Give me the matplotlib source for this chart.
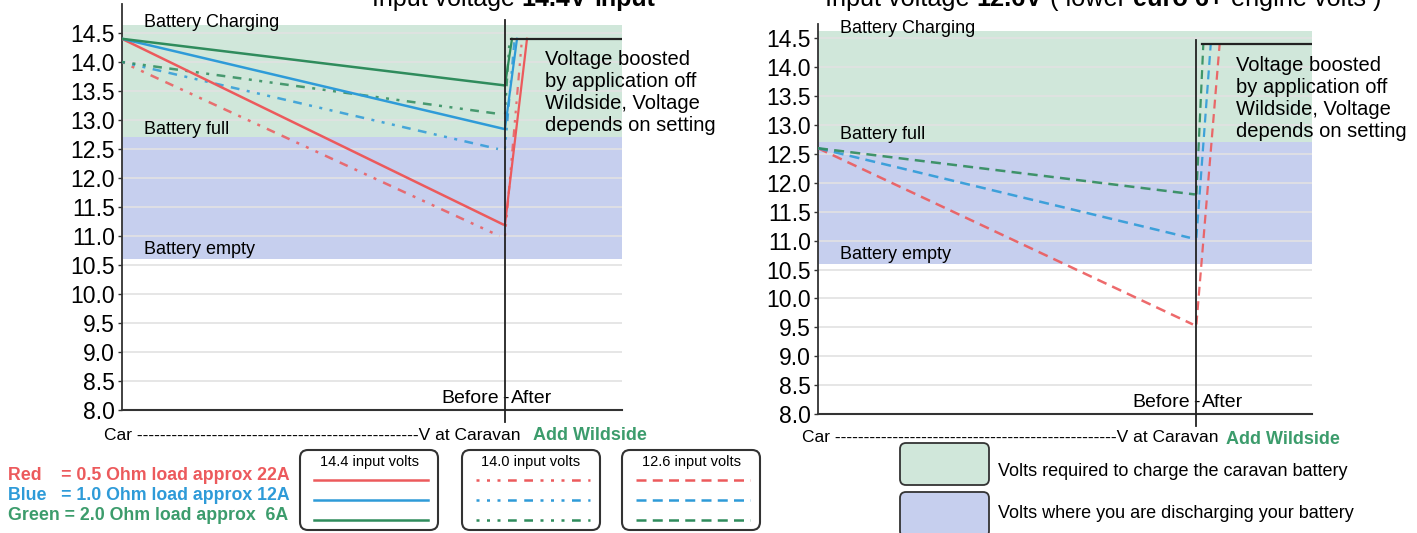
import numpy as np
import matplotlib
matplotlib.use('Agg')
import matplotlib.pyplot as plt
from matplotlib.patches import FancyBboxPatch

plt.rcParams['font.family'] = ['Liberation Sans', 'DejaVu Sans']

# ---- data ----
yticks = [8.0, 8.5, 9.0, 9.5, 10.0, 10.5, 11.0, 11.5, 12.0, 12.5, 13.0, 13.5, 14.0, 14.5]
band_charge = (12.7, 14.63)     # green band
band_discharge = (10.6, 12.7)   # blue band

# left chart: 14.4 V input (solid) and 14.0 V input (dot-dash); order red, blue, green
in144_car = [14.4, 14.4, 14.4]
in144_caravan = [11.2, 12.85, 13.6]
in140_car = [14.0, 14.0, 14.0]
in140_caravan = [11.0, 12.5, 13.1]
# right chart: 12.6 V input (dashed)
in126_car = [12.6, 12.6, 12.6]
in126_caravan = [9.55, 11.05, 11.8]
boosted = 14.4

# x positions (fraction of the axis) for car / caravan / boosted ends
x_car = 0.0
x_caravan_left = [0.762, 0.762, 0.762]
x_caravan_140 = [0.755, 0.752, 0.758]
x_boost_left = [0.81, 0.79, 0.78]
x_boost_140 = [0.80, 0.785, 0.775]
x_caravan_right = [0.759, 0.753, 0.763]
x_boost_right = [0.813, 0.795, 0.78]
x_divider = 0.766

RED = '#ec5a5c'
BLUE = '#2e9bd8'
GREEN = '#2f8c5c'
COLORS = [RED, BLUE, GREEN]
TXTGREEN = '#3c9c6c'
BAND_G = '#d0e7da'
BAND_B = '#c6cfee'

solid = '-'
dotdash = (0, (1.2, 3, 1.2, 3, 1.2, 3, 3.5, 3, 3.5, 3))
dashed = (0, (4, 2.5))

W, H = 1417, 533
fig = plt.figure(figsize=(W / 100, H / 100), dpi=100)


def setup(ax, ytop):
    ax.set_xlim(0, 1)
    ax.set_ylim(8.0, ytop)
    ax.axhspan(band_discharge[0], band_discharge[1], color=BAND_B, zorder=0, lw=0)
    ax.axhspan(band_charge[0], band_charge[1], color=BAND_G, zorder=0, lw=0)
    for v in yticks[1:]:
        ax.axhline(v, color='#e2e2e2', lw=1.2, zorder=1)
    ax.set_yticks(yticks)
    ax.set_yticklabels(['%.1f' % v for v in yticks], fontsize=16.5)
    ax.set_xticks([])
    ax.tick_params(axis='y', length=3, width=1, pad=2, color='#333333')
    for s in ['top', 'right']:
        ax.spines[s].set_visible(False)
    ax.spines['left'].set_color('#333333')
    ax.spines['bottom'].set_color('#333333')
    ax.spines['left'].set_linewidth(1.3)
    ax.spines['bottom'].set_linewidth(1.5)
    ax.patch.set_alpha(0)
    ax.axvline(x_divider, ymin=-0.03, ymax=0.96, color='#222222', lw=1.3, clip_on=False, zorder=5)
    ax.text(0.045, 14.68, 'Battery Charging', fontsize=13, va='center', zorder=6)
    ax.text(0.045, 12.83, 'Battery full', fontsize=13, va='center', zorder=6)
    ax.text(0.045, 10.76, 'Battery empty', fontsize=13, va='center', zorder=6)
    ax.text(x_divider + 0.08, 14.2, 'Voltage boosted\nby application off\nWildside, Voltage\ndepends on setting',
            fontsize=14.5, va='top', linespacing=1.2, zorder=6)
    ax.text(x_divider - 0.012, 8.05, 'Before', fontsize=14, ha='right', va='bottom')
    ax.text(x_divider, 8.05, '-', fontsize=14, ha='center', va='bottom')
    ax.text(x_divider + 0.012, 8.05, 'After', fontsize=14, ha='left', va='bottom')
    ax.plot([x_divider + 0.012, 1.0], [boosted, boosted], color='#222222', lw=1.6, zorder=5)


# ---- left chart ----
axL = fig.add_axes([122 / W, 1 - 410 / H, 500 / W, 406 / H])
setup(axL, 15.0)
for i in range(3):
    axL.plot([x_car, x_caravan_140[i]], [in140_car[i], in140_caravan[i]],
             color=COLORS[i], lw=1.8, ls=dotdash, zorder=3, alpha=0.85)
    axL.plot([x_divider, x_boost_140[i]], [in140_caravan[i], boosted],
             color=COLORS[i], lw=1.6, ls=dotdash, zorder=3, alpha=0.85)
for i in range(3):
    axL.plot([x_car, x_caravan_left[i]], [in144_car[i], in144_caravan[i]],
             color=COLORS[i], lw=1.8, zorder=4)
    axL.plot([x_divider, x_boost_left[i]], [in144_caravan[i], boosted],
             color=COLORS[i], lw=1.6, zorder=4)

# ---- right chart ----
axR = fig.add_axes([818 / W, 1 - 414 / H, 494 / W, 390 / H])
setup(axR, 14.75)
for i in range(3):
    axR.plot([x_car, x_caravan_right[i]], [in126_car[i], in126_caravan[i]],
             color=COLORS[i], lw=1.8, ls=dashed, zorder=3, alpha=0.9)
    axR.plot([x_divider, x_boost_right[i]], [in126_caravan[i], boosted],
             color=COLORS[i], lw=1.6, ls=dashed, zorder=3, alpha=0.9)

# ---- overlay for annotations (pixel coordinates) ----
ov = fig.add_axes([0, 0, 1, 1])
ov.set_xlim(0, W)
ov.set_ylim(H, 0)
ov.axis('off')
ov.patch.set_alpha(0)
renderer = fig.canvas.get_renderer()


def run_text(x, y, parts, size, align='left'):
    # lay out bold / normal runs one after the other
    space = 0.28 * size * 100 / 72
    items = []
    for s, bold in parts:
        t = ov.text(x, y, s, fontsize=size, fontweight='bold' if bold else 'normal', va='baseline')
        items.append(t)
    widths = [t.get_window_extent(renderer=renderer).width for t in items]
    total = sum(widths) + space * (len(items) - 1)
    cx = x - total if align == 'right' else x
    for t, w in zip(items, widths):
        t.set_x(cx)
        cx += w + space


# titles cut off at the top of the scan
run_text(655, 6, [('Input voltage', False), ('14.4V', True), ('input', True)], 18, align='right')
run_text(825, 6, [('Input voltage', False), ('12.6V', True), ('( lower', False), ('euro 6+', True),
                  ('engine volts )', False)], 18.2)

ov.text(104, 435, 'Car ' + '-' * 49 + 'V at Caravan', fontsize=12.5, va='center')
ov.text(533, 435, 'Add Wildside', fontsize=13, fontweight='bold', color=TXTGREEN, va='center')
ov.text(802, 438, 'Car ' + '-' * 49 + 'V at Caravan', fontsize=12.5, va='center')
ov.text(1226, 439, 'Add Wildside', fontsize=13, fontweight='bold', color=TXTGREEN, va='center')

# load legend text
load_text = ['Red    = 0.5 Ohm load approx 22A',
             'Blue   = 1.0 Ohm load approx 12A',
             'Green = 2.0 Ohm load approx  6A']
load_colors = [RED, BLUE, TXTGREEN]
for i, t in enumerate(load_text):
    ov.text(8, 475 + i * 20, t, fontsize=12.8, fontweight='bold', color=load_colors[i], va='center')

# style legend boxes
box_titles = ['14.4 input volts', '14.0 input volts', '12.6 input volts']
box_styles = [solid, dotdash, dashed]
box_x = [300, 462, 622]
for b in range(3):
    x0 = box_x[b]
    ov.add_patch(FancyBboxPatch((x0, 450), 138, 80, boxstyle='round,pad=0,rounding_size=8',
                                fc='white', ec='#333333', lw=1.5))
    ov.text(x0 + 69, 462, box_titles[b], fontsize=10.5, ha='center', va='center')
    for i in range(3):
        ov.plot([x0 + 14, x0 + 128], [480 + i * 20, 480 + i * 20], color=COLORS[i], lw=1.8,
                ls=box_styles[b])

# band legend
ov.add_patch(FancyBboxPatch((900, 443), 89, 42, boxstyle='round,pad=0,rounding_size=6',
                            fc=BAND_G, ec='#333333', lw=1.3))
ov.add_patch(FancyBboxPatch((900, 492), 89, 45, boxstyle='round,pad=0,rounding_size=6',
                            fc=BAND_B, ec='#333333', lw=1.3))
ov.text(998, 472, 'Volts required to charge the caravan battery', fontsize=13, va='center')
ov.text(998, 514, 'Volts where you are discharging your battery', fontsize=13, va='center')

fig.savefig('out.png', dpi=100)
